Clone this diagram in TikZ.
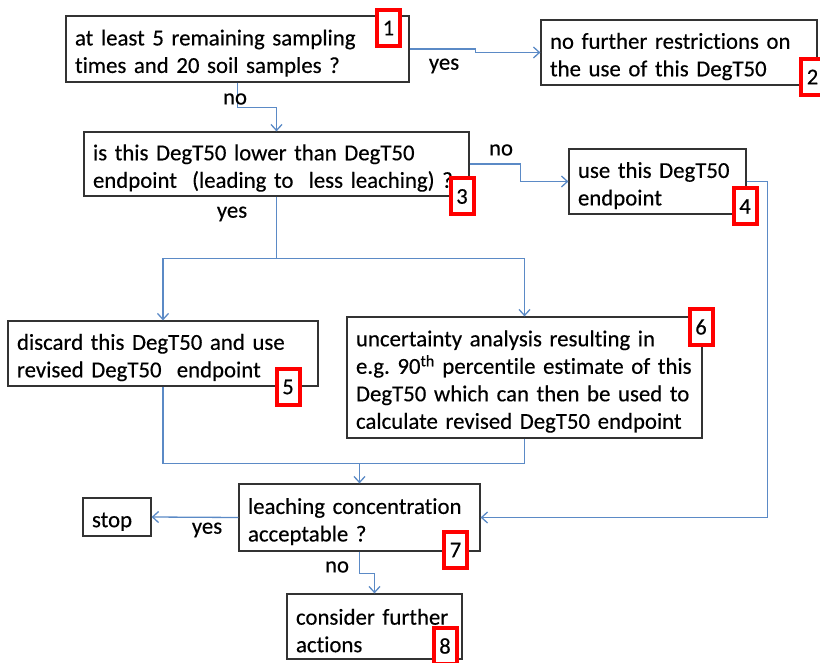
\documentclass[tikz,border=0pt]{standalone}
\usepackage{fontspec}
\setmainfont{Carlito}[WordSpace=0.75, FakeBold=0.35, Ligatures=NoCommon]
\usetikzlibrary{arrows.meta}
\definecolor{flow}{HTML}{5B8AC6}
\definecolor{tagred}{HTML}{FF0000}
\frenchspacing

\begin{document}
\begin{tikzpicture}[x=1pt,y=-1pt,
  box/.style={draw=black!80, line width=1.2pt, fill=white, align=left,
    inner xsep=9pt, inner ysep=0pt, text height=24pt,
    font=\fontsize{22.8}{27.5}\selectfont},
  tag/.style={draw=tagred, line width=4pt, fill=white, minimum width=23pt,
    minimum height=36pt, inner sep=0pt, font=\fontsize{22.5}{26}\selectfont},
  link/.style={draw=flow, line width=1.3pt},
  arr/.style={link, -{Straight Barb[length=6pt,width=11pt,line width=1.3pt]}},
  lbl/.style={font=\fontsize{22.8}{27.5}\selectfont, inner sep=0pt}
]
\useasboundingbox (0,0) rectangle (820,663);

% process boxes
\node[box, text width=325pt, minimum height=66pt] (b1) at (237.5,49)
  {at least 5 remaining sampling\\times and 20 soil samples ?};
\node[box, text width=258pt, minimum height=65pt] (b2) at (679,52.5)
  {no further restrictions on\\the use of this DegT50};
\node[box, text width=367pt, minimum height=64pt] (b3) at (276.5,164)
  {is this DegT50 lower than DegT50\\endpoint\ \ (leading to\ \ less leaching) ?};
\node[box, text width=159pt, minimum height=65pt] (b4) at (657.5,181.5)
  {use this DegT50\\endpoint};
\node[box, text width=292pt, minimum height=65pt] (b5) at (163,353.5)
  {discard this DegT50 and use\\revised DegT50\ \ endpoint};
\node[box, text width=337pt, minimum height=121pt] (b6) at (524.5,377.5)
  {uncertainty analysis resulting in\\e.g. 90\textsuperscript{th} percentile estimate of this\\DegT50 which can then be used to\\calculate revised DegT50 endpoint};
\node[box, text width=223pt, minimum height=67pt] (b7) at (359.5,517.5)
  {leaching concentration\\acceptable ?};
\node[box, text width=50pt, minimum height=38pt] (stop) at (117,517)
  {stop};
\node[box, text width=157pt, minimum height=65pt] (b8) at (374.5,626.5)
  {consider further\\actions};

% connectors
\draw[arr] (b1.east) -- ([xshift=66pt]b1.east) |- (b2.west);
\draw[arr] (b1.south) -- ++(0,25) -| (b3.north);
\draw[arr] (b3.east) -- ++(51,0) |- (b4.west);
\draw[arr] (b4.east) -- ++(21,0) |- (b7.east);
\draw[link] (b3.south) -- ++(0,62) coordinate (split);
\draw[arr] (split) -| (b5.north);
\draw[arr] (split) -| (b6.north);
\draw[link] (b5.south) -- ++(0,77) coordinate (join) -| (b6.south);
\draw[arr] (join -| b7.north) -- (b7.north);
\draw[arr] (b7.west) -- (stop.east);
\draw[arr] (b7.south) -- ++(0,22) -| (b8.north);

% branch labels
\node[lbl] (y1) at (444,66) {yes};
\node[lbl] (n1) at (235,99) {no};
\node[lbl] (n3) at (501,150) {no};
\node[lbl] (y3) at (232,214) {yes};
\node[lbl] (y7) at (207,530) {yes};
\node[lbl] (n7) at (337,567) {no};

% step numbers
\node[tag] (t1) at (388.5,28) {1};
\node[tag] (t2) at (812.5,77) {2};
\node[tag] (t3) at (462,196.5) {3};
\node[tag] (t4) at (745,206.5) {4};
\node[tag] (t5) at (288,387) {5};
\node[tag] (t6) at (701,327) {6};
\node[tag] (t7) at (455.5,550) {7};
\node[tag] (t8) at (445,646) {8};
\end{tikzpicture}
\end{document}
